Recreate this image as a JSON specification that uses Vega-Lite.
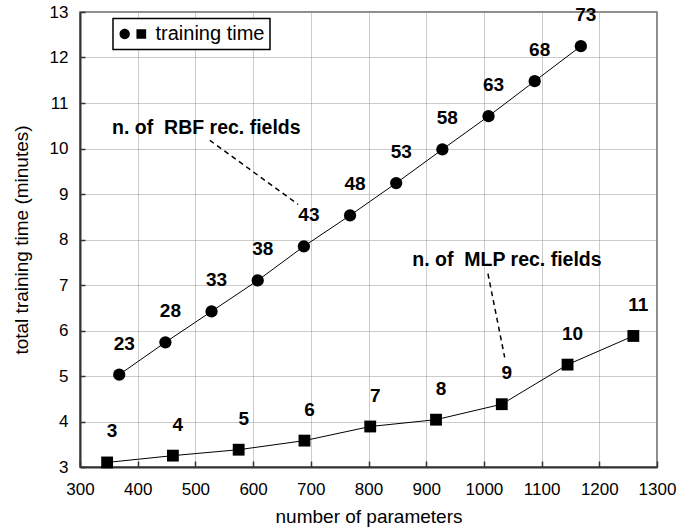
{
  "$schema": "https://vega.github.io/schema/vega-lite/v6.json",
  "width": 577,
  "height": 455,
  "autosize": {"type": "none"},
  "padding": {"left": 80, "top": 12, "right": 37, "bottom": 63},
  "background": "white",
  "config": {
    "font": "Liberation Sans",
    "view": {"stroke": "#666", "strokeWidth": 1.5},
    "axis": {
      "domainColor": "#333",
      "domainWidth": 2,
      "gridColor": "#999",
      "gridDash": [1, 1],
      "gridWidth": 1,
      "labelFont": "Liberation Sans",
      "labelFontSize": 17,
      "labelColor": "black",
      "labelOverlap": false,
      "labelFlush": false,
      "titleFont": "Liberation Sans",
      "titleFontSize": 19,
      "titleFontWeight": "normal",
      "titleColor": "black",
      "tickColor": "#333",
      "tickWidth": 1.5
    }
  },
  "datasets": {
    "pts": [
      {"series": "RBF", "params": 368, "time": 5.03, "label": "23"},
      {"series": "RBF", "params": 448, "time": 5.74, "label": "28"},
      {"series": "RBF", "params": 528, "time": 6.42, "label": "33"},
      {"series": "RBF", "params": 608, "time": 7.10, "label": "38"},
      {"series": "RBF", "params": 688, "time": 7.85, "label": "43"},
      {"series": "RBF", "params": 768, "time": 8.53, "label": "48"},
      {"series": "RBF", "params": 848, "time": 9.24, "label": "53"},
      {"series": "RBF", "params": 928, "time": 9.98, "label": "58"},
      {"series": "RBF", "params": 1008, "time": 10.71, "label": "63"},
      {"series": "RBF", "params": 1088, "time": 11.48, "label": "68"},
      {"series": "RBF", "params": 1168, "time": 12.25, "label": "73"},
      {"series": "MLP", "params": 347, "time": 3.10, "label": "3"},
      {"series": "MLP", "params": 461, "time": 3.25, "label": "4"},
      {"series": "MLP", "params": 575, "time": 3.38, "label": "5"},
      {"series": "MLP", "params": 689, "time": 3.58, "label": "6"},
      {"series": "MLP", "params": 803, "time": 3.89, "label": "7"},
      {"series": "MLP", "params": 917, "time": 4.04, "label": "8"},
      {"series": "MLP", "params": 1031, "time": 4.38, "label": "9"},
      {"series": "MLP", "params": 1145, "time": 5.25, "label": "10"},
      {"series": "MLP", "params": 1259, "time": 5.88, "label": "11"}
    ],
    "notes": [
      {"params": 519, "time": 10.44, "text": "n. of\u00a0 RBF rec. fields"},
      {"params": 1040, "time": 7.54, "text": "n. of\u00a0 MLP rec. fields"}
    ],
    "leaders": [
      {"params": 525, "time": 10.18, "params2": 678, "time2": 8.77},
      {"params": 1007, "time": 7.25, "params2": 1036, "time2": 5.41}
    ]
  },
  "encoding": {
    "x": {
      "field": "params",
      "type": "quantitative",
      "scale": {"domain": [300, 1300], "nice": false, "zero": false},
      "axis": {
        "title": "number of parameters",
        "values": [300, 400, 500, 600, 700, 800, 900, 1000, 1100, 1200, 1300],
        "format": "d",
        "tickSize": -6,
        "labelPadding": 20,
        "titlePadding": 10
      }
    },
    "y": {
      "field": "time",
      "type": "quantitative",
      "scale": {"domain": [3, 13], "nice": false, "zero": false},
      "axis": {
        "title": "total training time (minutes)",
        "values": [3, 4, 5, 6, 7, 8, 9, 10, 11, 12, 13],
        "format": "d",
        "tickSize": -5,
        "labelPadding": 17,
        "titlePadding": 18
      }
    }
  },
  "layer": [
    {
      "data": {"name": "pts"},
      "mark": {"type": "line", "color": "black", "strokeWidth": 1},
      "encoding": {"detail": {"field": "series"}}
    },
    {
      "data": {"name": "leaders"},
      "mark": {"type": "rule", "color": "black", "strokeWidth": 1.5, "strokeDash": [5, 4]},
      "encoding": {
        "x2": {"field": "params2"},
        "y2": {"field": "time2"}
      }
    },
    {
      "data": {"name": "pts"},
      "transform": [{"filter": "datum.series === 'RBF'"}],
      "mark": {"type": "point", "shape": "circle", "filled": true, "size": 150, "opacity": 1},
      "encoding": {
        "color": {
          "datum": "training time",
          "scale": {"range": ["black"]},
          "legend": {
            "title": null,
            "orient": "none",
            "legendX": 33,
            "legendY": 6.5,
            "direction": "vertical",
            "fillColor": "white",
            "strokeColor": "black",
            "padding": 5.5,
            "symbolType": "M0.27,0 A1.03,1.03 0 1,0 -1.79,0 A1.03,1.03 0 1,0 0.27,0 Z M1.59,-0.97 L3.53,-0.97 L3.53,0.97 L1.59,0.97 Z",
            "symbolSize": 100,
            "symbolFillColor": "black",
            "symbolStrokeWidth": 0,
            "symbolOpacity": 1,
            "labelFont": "Liberation Sans",
            "labelFontSize": 20,
            "labelColor": "black",
            "labelOffset": 17,
            "encode": {"legend": {"update": {"strokeWidth": {"value": 1.5}}}}
          }
        }
      }
    },
    {
      "data": {"name": "pts"},
      "transform": [{"filter": "datum.series === 'MLP'"}],
      "mark": {"type": "point", "shape": "square", "filled": true, "size": 140, "color": "black", "opacity": 1}
    },
    {
      "data": {"name": "pts"},
      "mark": {"type": "text", "font": "Liberation Sans", "fontWeight": "bold", "fontSize": 19, "color": "black", "dx": 5, "dy": -31, "baseline": "middle", "align": "center"},
      "encoding": {"text": {"field": "label"}}
    },
    {
      "data": {"name": "notes"},
      "mark": {"type": "text", "font": "Liberation Sans", "fontWeight": "bold", "fontSize": 19.5, "color": "black", "baseline": "middle", "align": "center"},
      "encoding": {"text": {"field": "text"}}
    }
  ]
}
